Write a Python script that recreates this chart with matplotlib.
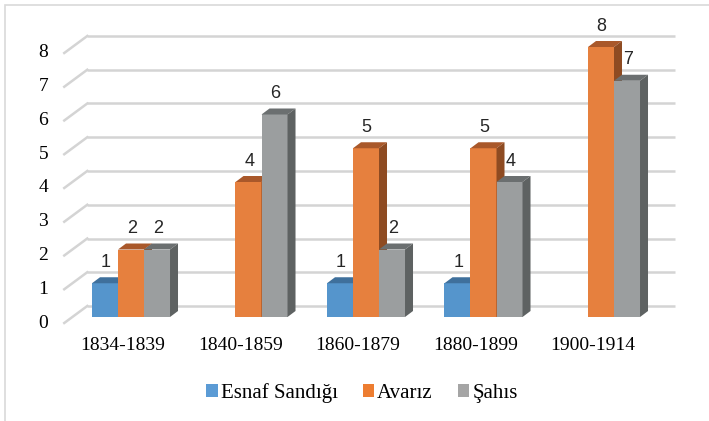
import matplotlib
matplotlib.use("Agg")
import matplotlib.pyplot as plt
from matplotlib.patches import Polygon, Rectangle, Patch
from matplotlib.transforms import offset_copy
import numpy as np

categories = ["1834-1839", "1840-1859", "1860-1879", "1880-1899", "1900-1914"]
series_names = ["Esnaf Sandığı", "Avarız", "Şahıs"]
esnaf = [1, 0, 1, 1, 0]
avariz = [2, 4, 5, 5, 8]
sahis = [2, 6, 2, 4, 7]
yticks = [0, 1, 2, 3, 4, 5, 6, 7, 8]

series = [esnaf, avariz, sahis]
front_cols = ["#5595CC", "#E6803E", "#9B9E9F"]
top_cols = ["#3F709C", "#A9582A", "#6B6F70"]
side_cols = ["#3A6890", "#8E4B22", "#5E6262"]
legend_cols = ["#5B9BD5", "#ED7D31", "#A5A5A5"]
serif = ["Liberation Serif", "DejaVu Serif"]

W, H, DPI = 709, 421, 100
fig = plt.figure(figsize=(W / DPI, H / DPI), dpi=DPI)
# front plane of the bars
left_px, right_px, bot_px, top_px = 72.25, 659.75, 317, 47
ax = fig.add_axes([left_px / W, (H - bot_px) / H, (right_px - left_px) / W, (bot_px - top_px) / H])
ax.set_xlim(-0.5, len(categories) - 0.5)
ax.set_ylim(0, 8)
ax.axis("off")

fig.canvas.draw()
p0 = ax.transData.transform((0, 0))
p1 = ax.transData.transform((1, 1))
px_x = p1[0] - p0[0]
px_y = p1[1] - p0[1]

# depth offsets in pixels (x right, y up)
bar_depth = (8, 6)
back = (15, 11)
floor_front = (-8, -6)

grid_col = "#D4D4D4"
back_tr = offset_copy(ax.transData, fig=fig, x=back[0], y=back[1], units="dots")
for v in yticks:
    ax.plot([-0.5, len(categories) - 0.5], [v, v], color=grid_col, lw=1.8,
            transform=back_tr, clip_on=False, zorder=1, solid_capstyle="butt")
    xs = [-0.5 + floor_front[0] / px_x, -0.5 + back[0] / px_x]
    ys = [v + floor_front[1] / px_y, v + back[1] / px_y]
    ax.plot(xs, ys, color=grid_col, lw=1.8, clip_on=False, zorder=1)
    ax.text(-0.5 + (floor_front[0] - 16) / px_x, v + floor_front[1] / px_y, str(v),
            ha="right", va="center", fontsize=14, family=serif, color="#000000")

n = len(series)
group_w = 0.664
bw = group_w / n
ddx = bar_depth[0] / px_x
ddy = bar_depth[1] / px_y
z = 2
for i, cat in enumerate(categories):
    for s in range(n):
        v = series[s][i]
        if v == 0:
            continue
        x0 = i - group_w / 2 + s * bw
        x1 = x0 + bw
        ax.add_patch(Rectangle((x0, 0), bw, v, facecolor=front_cols[s], edgecolor="none",
                               zorder=z, clip_on=False))
        ax.add_patch(Polygon([(x0, v), (x1, v), (x1 + ddx, v + ddy), (x0 + ddx, v + ddy)],
                             closed=True, facecolor=top_cols[s], edgecolor="none",
                             zorder=z, clip_on=False))
        ax.add_patch(Polygon([(x1, 0), (x1 + ddx, ddy), (x1 + ddx, v + ddy), (x1, v)],
                             closed=True, facecolor=side_cols[s], edgecolor="none",
                             zorder=z, clip_on=False))
        z += 1
for i, cat in enumerate(categories):
    for s in range(n):
        v = series[s][i]
        if v == 0:
            continue
        xc = i - group_w / 2 + (s + 0.5) * bw
        ax.annotate(str(v), (xc, v), xytext=(0.5, 15), textcoords="offset points",
                    ha="center", va="center", fontsize=13, family="Liberation Sans",
                    color="#262626", zorder=100, annotation_clip=False)
    ax.text(i + floor_front[0] / px_x, (floor_front[1] - 22) / px_y, cat,
            ha="center", va="center", fontsize=14, family=serif, color="#000000")

handles = [Patch(facecolor=c, edgecolor="none") for c in legend_cols]
fig.legend(handles, series_names, loc="center", bbox_to_anchor=(362 / W, (H - 393) / H), ncol=3,
           frameon=False, handlelength=0.55, handleheight=0.55, handletextpad=0.15,
           columnspacing=1.2, prop={"family": serif, "size": 15})

border = Rectangle((5 / W, -0.05), 1.1, 1.05 - 5 / H, transform=fig.transFigure,
                   facecolor="none", edgecolor="#D9D9D9", lw=1.2, clip_on=False)
fig.patches.append(border)

fig.savefig("out.png", dpi=DPI)
